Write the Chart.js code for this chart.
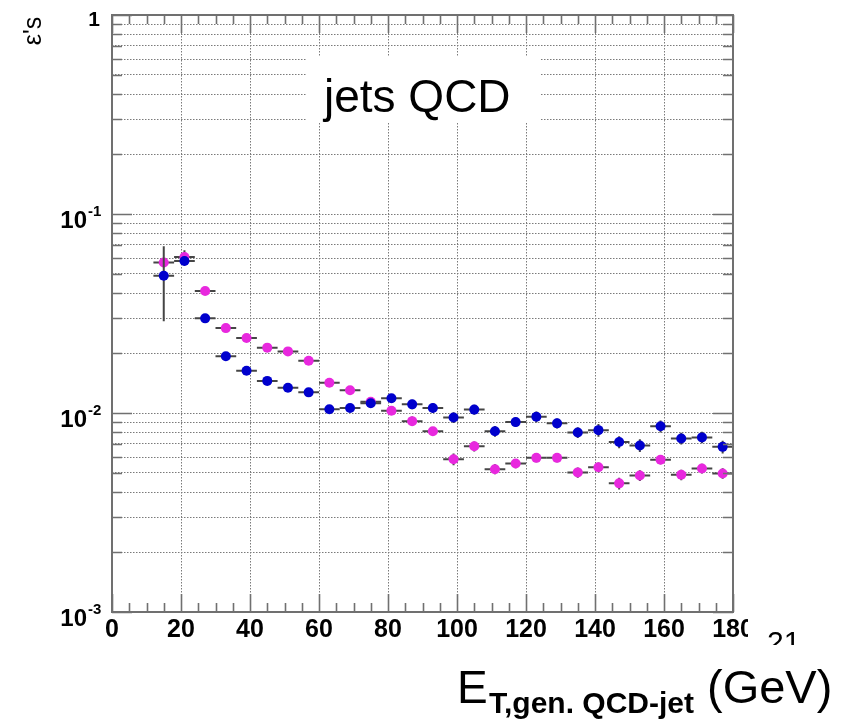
<!DOCTYPE html>
<html>
<head>
<meta charset="utf-8">
<script src="https://cdn.jsdelivr.net/npm/chart.js@4.4.1/dist/chart.umd.min.js"></script>
<style>
  html, body { margin: 0; padding: 0; background: #fff; }
  canvas { display: block; }
</style>
</head>
<body>
<canvas id="bieu-do-eps" width="850" height="720"></canvas>
<script>
const FONT = '"Liberation Sans", Arial, Helvetica, sans-serif';

// bin centres, E_T (GeV)
const etBins = [15, 21, 27, 33, 39, 45, 51, 57, 63, 69, 75, 81, 87, 93,
                99, 105, 111, 117, 123, 129, 135, 141, 147, 153, 159, 165, 171, 177];
const binHalfWidth = 3;

// blue series
const epsBlue = [0.0489, 0.0581, 0.0299, 0.0193, 0.0163, 0.0145, 0.0134, 0.0127, 0.01045, 0.0106,
                 0.0112, 0.01185, 0.01105, 0.0106, 0.0095, 0.0104, 0.0081, 0.0090, 0.00957, 0.00887,
                 0.00798, 0.0082, 0.00715, 0.00687, 0.00857, 0.00745, 0.00754, 0.00676];
const errBlue = [0.020, 0.003, 0.0012, 0.0008, 0.0007, 0.0006, 0.0006, 0.0006, 0.0005, 0.0005,
                 0.0005, 0.0006, 0.0006, 0.0006, 0.0006, 0.0006, 0.0005, 0.0005, 0.0006, 0.0005,
                 0.0005, 0.0006, 0.0005, 0.0005, 0.0006, 0.0005, 0.0005, 0.0005];

// magenta series
const epsPink = [0.057, 0.0608, 0.041, 0.0267, 0.0238, 0.0213, 0.0204, 0.0183, 0.0142, 0.0130,
                 0.0114, 0.01026, 0.0091, 0.0081, 0.00586, 0.0068, 0.00522, 0.00557, 0.00595, 0.00595,
                 0.00503, 0.00534, 0.00443, 0.00485, 0.00582, 0.00489, 0.00526, 0.00497];
const errPink = [0.003, 0.005, 0.0015, 0.001, 0.0008, 0.0007, 0.0007, 0.0007, 0.0006, 0.0006,
                 0.0005, 0.0005, 0.0005, 0.0004, 0.0004, 0.0004, 0.0003, 0.0003, 0.0003, 0.0003,
                 0.0003, 0.0003, 0.0003, 0.0003, 0.0003, 0.0003, 0.0003, 0.0003];

// axes
const xTickLabels = [0, 20, 40, 60, 80, 100, 120, 140, 160, 180];
const xMinorStep = 5;
const yDecades = [0.001, 0.01, 0.1, 1];
const yDecadeLabels = [['10', '-3'], ['10', '-2'], ['10', '-1'], ['1', '']];
const yGridValues = [0.001, 0.002, 0.003, 0.004, 0.005, 0.006, 0.007, 0.008, 0.009,
                     0.01, 0.02, 0.03, 0.04, 0.05, 0.06, 0.07, 0.08, 0.09,
                     0.1, 0.2, 0.3, 0.4, 0.5, 0.6, 0.7, 0.8, 0.9, 1];

const BLUE = 'rgb(0, 0, 205)';
const PINK = 'rgb(232, 40, 222)';
const GRID = '#7a7a7a';
const FRAME = '#707070';

const toPoints = ys => etBins.map((x, i) => ({ x: x, y: ys[i] }));

// error bars, drawn under each dataset's markers
const errorBars = {
  id: 'errorBars',
  beforeDatasetDraw(chart, args) {
    const ds = chart.data.datasets[args.index];
    const { ctx, scales: { x, y } } = chart;
    ctx.save();
    ctx.strokeStyle = '#454545';
    ctx.lineWidth = 2;
    ds.data.forEach((p, i) => {
      const px = x.getPixelForValue(p.x);
      const py = y.getPixelForValue(p.y);
      ctx.beginPath();
      ctx.moveTo(x.getPixelForValue(p.x - binHalfWidth), py);
      ctx.lineTo(x.getPixelForValue(p.x + binHalfWidth), py);
      ctx.moveTo(px, y.getPixelForValue(p.y + ds.err[i]));
      ctx.lineTo(px, y.getPixelForValue(p.y - ds.err[i]));
      ctx.stroke();
    });
    ctx.restore();
  }
};

// frame, inner ticks, labels, titles
const khung = {
  id: 'khung',
  beforeDatasetsDraw(chart) {
    const { ctx } = chart;
    const a = chart.chartArea;
    // "jets QCD" box
    ctx.save();
    ctx.fillStyle = '#fff';
    ctx.fillRect(a.left + 195, a.top + 42, 233, 66);
    ctx.fillStyle = '#000';
    ctx.font = '46px ' + FONT;
    ctx.textBaseline = 'alphabetic';
    ctx.fillText('jets QCD', a.left + 212, a.top + 97);
    ctx.restore();
  },
  afterDraw(chart) {
    const { ctx, scales: { x, y } } = chart;
    const a = chart.chartArea;
    ctx.save();
    ctx.strokeStyle = FRAME;
    ctx.lineWidth = 2;
    ctx.strokeRect(a.left, a.top, a.right - a.left, a.bottom - a.top);

    // x ticks (bottom and top, pointing inward)
    ctx.beginPath();
    for (let v = xTickLabels[0]; v <= xTickLabels[xTickLabels.length - 1]; v += xMinorStep) {
      const px = Math.round(x.getPixelForValue(v)) + 0.5;
      const len = xTickLabels.includes(v) ? 18 : 9;
      ctx.moveTo(px, a.bottom); ctx.lineTo(px, a.bottom - len);
      ctx.moveTo(px, a.top); ctx.lineTo(px, a.top + len);
    }
    // y ticks (left and right)
    yGridValues.forEach(v => {
      const py = Math.round(y.getPixelForValue(v)) + 0.5;
      const len = yDecades.includes(v) ? 20 : 10;
      ctx.moveTo(a.left, py); ctx.lineTo(a.left + len, py);
      ctx.moveTo(a.right, py); ctx.lineTo(a.right - len, py);
    });
    ctx.lineWidth = 1.6;
    ctx.stroke();

    // x tick labels (the last one is cut off in the original)
    ctx.save();
    ctx.beginPath();
    ctx.rect(0, 0, 748, 720);
    ctx.clip();
    ctx.fillStyle = '#000';
    ctx.font = 'bold 25px ' + FONT;
    ctx.textAlign = 'center';
    ctx.textBaseline = 'alphabetic';
    xTickLabels.forEach(v => {
      ctx.fillText(String(v), x.getPixelForValue(v), a.bottom + 25);
    });
    ctx.restore();

    // y decade labels with exponent
    ctx.fillStyle = '#000';
    ctx.textBaseline = 'alphabetic';
    yDecades.forEach((v, i) => {
      const py = y.getPixelForValue(v);
      const [base, exp] = yDecadeLabels[i];
      if (!exp) {
        ctx.font = 'bold 21px ' + FONT;
        ctx.textAlign = 'right';
        ctx.fillText(base, a.left - 12, py + 11);
        return;
      }
      ctx.font = 'bold 24px ' + FONT;
      ctx.textAlign = 'right';
      ctx.fillText(base, a.left - 25, py + 13.5);
      ctx.font = 'bold 15px ' + FONT;
      ctx.textAlign = 'left';
      ctx.fillText(exp, a.left - 24, py + 2);
    });

    // y axis title, rotated
    ctx.save();
    ctx.translate(41, 31);
    ctx.rotate(-Math.PI / 2);
    ctx.font = '25px ' + FONT;
    ctx.textAlign = 'center';
    ctx.fillText('\u03b5\'s', 0, 0);
    ctx.restore();

    // page number fragment
    ctx.save();
    ctx.beginPath();
    ctx.rect(750, 600, 100, 45);
    ctx.clip();
    ctx.font = '30px ' + FONT;
    ctx.textAlign = 'left';
    ctx.fillText('21', 767, 652);
    ctx.restore();

    // x axis title: E_{T,gen. QCD-jet} (GeV)
    ctx.textAlign = 'left';
    ctx.font = '46px ' + FONT;
    ctx.fillText('E', 457, 703);
    ctx.font = 'bold 30px ' + FONT;
    ctx.fillText('T,gen. QCD-jet', 489, 713);
    ctx.font = '47px ' + FONT;
    ctx.fillText('(GeV)', 707, 703);
    ctx.restore();
  }
};

const gridColor = (lo, hi) => ctx => {
  const v = ctx.tick && ctx.tick.value;
  return (v === lo || v === hi) ? 'rgba(0,0,0,0)' : GRID;
};

const config = {
  type: 'scatter',
  data: {
    datasets: [
      { label: 'blue', data: toPoints(epsBlue), err: errBlue, backgroundColor: BLUE,
        borderWidth: 0, pointRadius: 5, pointHoverRadius: 5 },
      { label: 'magenta', data: toPoints(epsPink), err: errPink, backgroundColor: PINK,
        borderWidth: 0, pointRadius: 5, pointHoverRadius: 5 }
    ]
  },
  options: {
    responsive: false,
    animation: false,
    layout: { padding: { left: 112, top: 15, right: 117, bottom: 108 } },
    plugins: { legend: { display: false }, tooltip: { enabled: false } },
    scales: {
      x: {
        type: 'linear',
        min: 0,
        max: 180,
        ticks: { display: false },
        afterBuildTicks: s => { s.ticks = xTickLabels.map(v => ({ value: v })); },
        grid: { drawTicks: false, color: gridColor(0, 180), lineWidth: 1 },
        border: { display: false, dash: [1.5, 1.5] }
      },
      y: {
        type: 'logarithmic',
        min: 0.001,
        max: 1,
        ticks: { display: false },
        afterBuildTicks: s => { s.ticks = yGridValues.map(v => ({ value: v })); },
        grid: { drawTicks: false, color: gridColor(0.001, 1), lineWidth: 1 },
        border: { display: false, dash: [1.5, 1.5] }
      }
    }
  },
  plugins: [errorBars, khung]
};

const bieuDo = new Chart(document.getElementById('bieu-do-eps'), config);
</script>
</body>
</html>
